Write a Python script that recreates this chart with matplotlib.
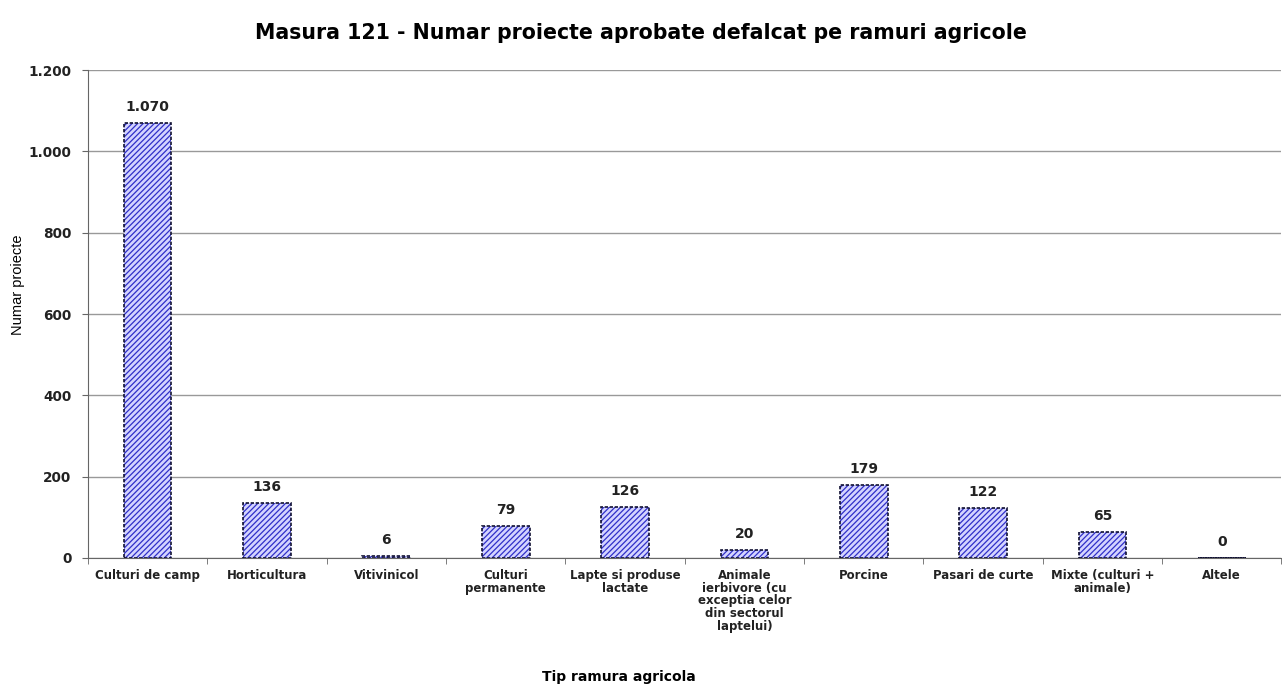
import numpy as np
import matplotlib.pyplot as plt
from matplotlib.ticker import FuncFormatter

plt.rcParams['font.family'] = ['DejaVu Sans']
plt.rcParams['hatch.linewidth'] = 0.9

categories = ['Culturi de camp', 'Horticultura', 'Vitivinicol', 'Culturi\npermanente',
              'Lapte si produse\nlactate',
              'Animale\nierbivore (cu\nexceptia celor\ndin sectorul\nlaptelui)',
              'Porcine', 'Pasari de curte', 'Mixte (culturi +\nanimale)', 'Altele']
values = [1070, 136, 6, 79, 126, 20, 179, 122, 65, 0]

def fmt(v, pos=None):
    return f'{int(v):,}'.replace(',', '.')

fig = plt.figure(figsize=(12.82, 6.91), dpi=100)
ax = fig.add_axes([0.0686, 0.1925, 0.931, 0.706])

x = np.arange(len(categories))
w = 0.4
# hatched fill, then dark outline on top
ax.bar(x, values, width=w, color='#d4d4ff', edgecolor='#3030c8', hatch='//////',
       linewidth=0, zorder=2)
ax.bar(x, values, width=w, fill=False, edgecolor='#111133', linewidth=1.2,
       linestyle=(0, (2, 1)), zorder=3)

for xi, v in zip(x, values):
    ax.text(xi, v + 22, fmt(v), ha='center', va='bottom', fontsize=10,
            fontweight='bold', color='#222222')

ax.set_xlim(-0.5, len(categories) - 0.5)
ax.set_ylim(0, 1200)
ax.set_yticks(np.arange(0, 1201, 200))
ax.yaxis.set_major_formatter(FuncFormatter(fmt))
ax.yaxis.grid(True, color='#999999', linewidth=1)
ax.set_axisbelow(True)

ax.set_xticks(x)
ax.set_xticklabels(categories, fontsize=8.5, fontweight='bold', color='#222222',
                   linespacing=0.97)
ax.tick_params(axis='x', length=0, pad=8)
ax.set_xticks(np.arange(-0.5, len(categories), 1), minor=True)
ax.tick_params(axis='x', which='minor', length=4, color='#666666')
ax.tick_params(axis='y', labelsize=9.8, length=4, pad=8, color='#666666',
               labelcolor='#222222')
for lbl in ax.get_yticklabels():
    lbl.set_fontweight('bold')

for s in ['top', 'right']:
    ax.spines[s].set_visible(False)
ax.spines['left'].set_color('#666666')
ax.spines['bottom'].set_color('#666666')

ax.set_ylabel('Numar proiecte', fontsize=10.5, family='Liberation Sans')
ax.yaxis.set_label_coords(-0.053, 0.56)
fig.text(0.483, 0.02, 'Tip ramura agricola', ha='center', va='center',
         fontsize=10, fontweight='bold')
fig.text(0.5, 0.952, 'Masura 121 - Numar proiecte aprobate defalcat pe ramuri agricole',
         ha='center', va='center', fontsize=14.8, fontweight='bold')

fig.savefig('out.png', dpi=100)
